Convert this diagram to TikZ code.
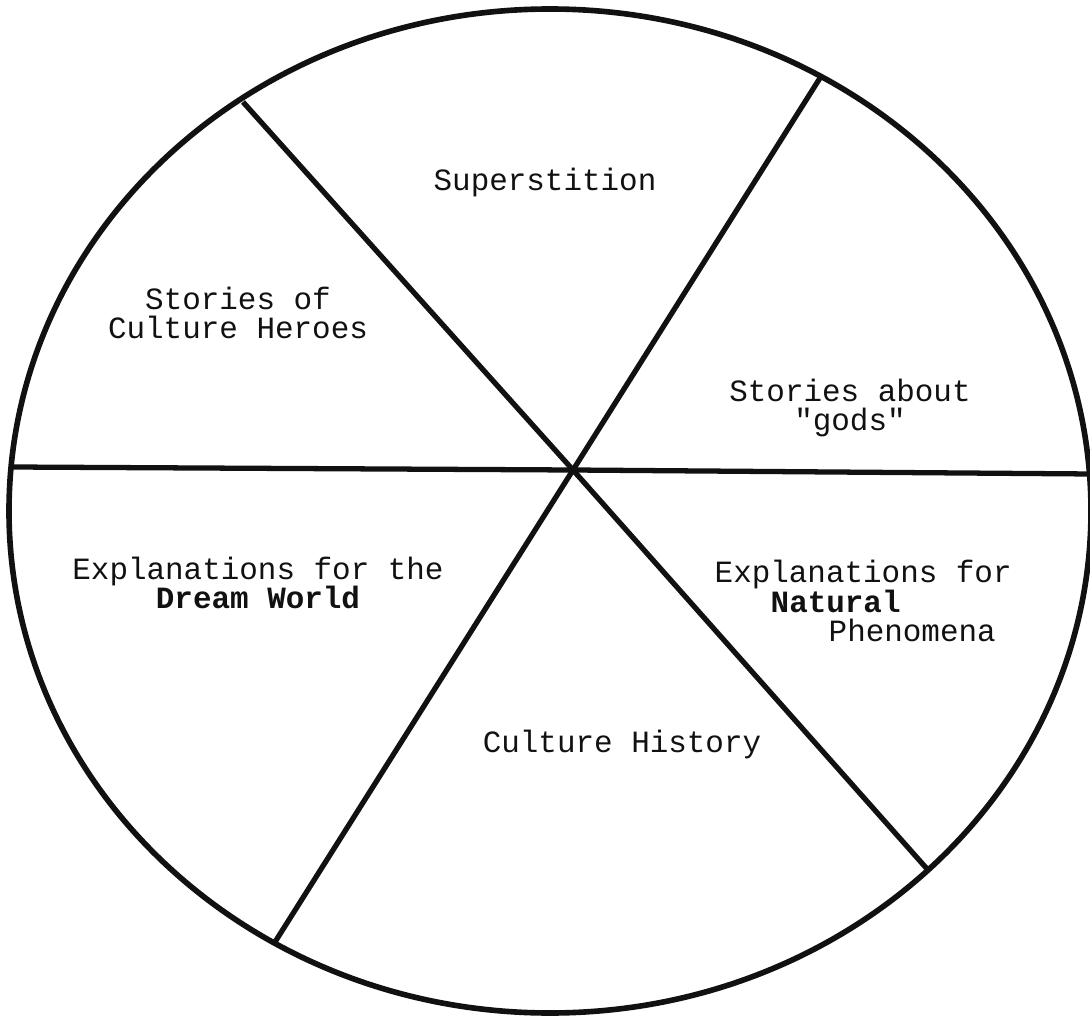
\documentclass[tikz,border=0pt]{standalone}
\usepackage{fontspec}
\setmonofont{Liberation Mono}
\definecolor{ink}{HTML}{111111}

\begin{document}
\begin{tikzpicture}[
    rim/.style={draw=ink,line width=1.6pt},
    spoke/.style={draw=ink,line width=1.5pt},
    lbl/.style={text=ink,inner sep=0pt,align=center,
                font=\ttfamily\fontsize{8.8}{8.3}\selectfont}]
  \useasboundingbox (0,0) rectangle (10.90,10.15);
  % the ring
  \draw[rim] (5.50,5.04) ellipse [x radius=5.41, y radius=5.02];
  % spokes meet a little above the middle
  \coordinate (hub) at (5.73,5.45);
  \coordinate (w)  at (0.12,5.48);
  \coordinate (e)  at (10.92,5.41);
  \coordinate (nw) at (2.43,9.13);
  \coordinate (ne) at (8.20,9.37);
  \coordinate (sw) at (2.75,0.73);
  \coordinate (se) at (9.28,1.45);
  \foreach \p/\q in {w/e,nw/se,ne/sw}{%
    \draw[spoke] (\p) -- (hub) -- (\q);}
  % sector labels
  \node[lbl] (super)   at (5.45,8.32) {Superstition};
  \node[lbl] (heroes)  at (2.38,7.02) {Stories of\\Culture Heroes};
  \node[lbl] (gods)    at (8.50,6.07) {Stories about\\"gods"};
  \node[lbl] (dream)   at (2.58,4.32) {Explanations for the\\\textbf{Dream World}};
  \node[lbl,align=left,anchor=west] (nature) at (7.14,4.14)
       {Explanations for\\\hspace*{0.56cm}\textbf{Natural}\\\hspace*{1.14cm}Phenomena};
  \node[lbl] (history) at (6.22,2.70) {Culture History};
\end{tikzpicture}
\end{document}
